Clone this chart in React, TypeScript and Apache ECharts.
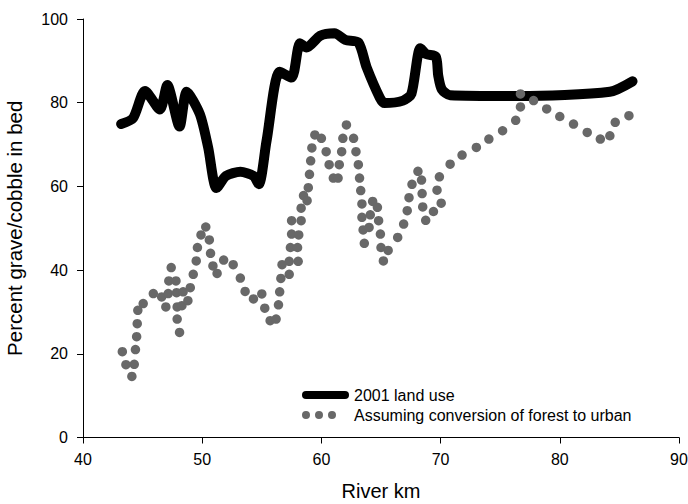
import React, { useEffect, useRef } from "react";
import * as echarts from "echarts";

const lineName = "2001 land use";
const dotName = "Assuming conversion of forest to urban";

const landUse2001: [number, number][] = [
  [43.2, 74.9], [44.2, 76.3], [45.2, 82.8], [46.45, 78.4], [47.07, 84.2], [48.1, 74.3],
  [48.7, 82.6], [49.8, 77.3], [50.5, 69.3], [51.2, 59.6], [52.0, 62.5], [53.2, 63.5],
  [54.3, 62.5], [54.75, 60.5], [55.4, 70.9], [56.5, 87.4], [57.5, 86.0], [58.2, 94.2],
  [58.75, 93.2], [59.9, 96.0], [61.1, 96.6], [62.0, 95.0], [63.1, 94.4], [63.8, 88.4],
  [64.9, 81.2], [65.3, 79.9], [66.85, 80.5], [67.55, 82.1], [68.3, 93.0], [68.8, 91.6],
  [69.6, 91.0], [69.8, 86.5], [70.1, 83.2], [70.8, 81.8], [76.6, 81.6], [84.2, 82.6],
  [86.1, 85.1],
];

const forestToUrban: [number, number][] = [
  [43.3, 20.5], [43.6, 17.4], [44.1, 14.6], [44.3, 17.5], [44.4, 21.0], [44.5, 24.1],
  [44.55, 27.2], [44.6, 30.4], [45.05, 32.0], [45.9, 34.4], [46.6, 33.6], [46.95, 31.2],
  [47.15, 34.4], [47.2, 37.4], [47.4, 40.6], [47.8, 37.4], [47.85, 34.6], [47.9, 31.2],
  [47.9, 28.3], [48.1, 25.1], [48.3, 31.5], [48.4, 34.8], [48.8, 32.7], [49.0, 35.8],
  [49.25, 39.0], [49.5, 42.2], [49.6, 45.4], [49.9, 48.4], [50.3, 50.3], [50.6, 47.2],
  [50.7, 44.0], [50.9, 41.0], [51.25, 39.2], [51.8, 42.4], [52.6, 41.3], [53.2, 38.1],
  [53.6, 34.9], [54.3, 33.1], [55.0, 34.3], [55.25, 30.9], [55.7, 27.9], [56.2, 28.3],
  [56.4, 31.7], [56.5, 34.8], [56.6, 38.0], [56.7, 41.3], [57.3, 39.0], [57.3, 42.1],
  [57.4, 45.4], [57.5, 48.6], [57.5, 51.8], [58.05, 42.1], [58.0, 45.4], [58.1, 48.4],
  [58.3, 51.8], [58.3, 54.8], [58.5, 57.8], [58.8, 56.6], [58.9, 59.7], [59.0, 62.9],
  [59.1, 66.1], [59.2, 69.2], [59.45, 72.3], [60.0, 71.5], [60.4, 68.3], [60.65, 65.2],
  [61.0, 62.0], [61.4, 62.0], [61.5, 65.2], [61.7, 68.3], [61.8, 71.5], [62.1, 74.7],
  [62.7, 71.5], [62.9, 68.3], [63.1, 65.2], [63.2, 62.0], [63.3, 59.0], [63.4, 55.8],
  [63.4, 52.6], [63.5, 49.6], [63.6, 46.4], [64.0, 50.2], [64.1, 53.2], [64.3, 56.4],
  [64.7, 55.0], [64.8, 51.8], [64.95, 48.6], [65.0, 45.4], [65.2, 42.2], [65.6, 44.7],
  [66.4, 47.8], [66.9, 51.0], [67.2, 54.2], [67.35, 57.3], [67.6, 60.5], [68.1, 63.6],
  [68.4, 61.5], [68.45, 58.3], [68.5, 55.1], [68.75, 51.9], [69.4, 54.0], [69.7, 59.1],
  [69.9, 62.3], [70.05, 56.0], [70.8, 65.3], [71.8, 67.5], [73.0, 69.3], [74.05, 71.3],
  [75.2, 73.3], [76.3, 75.8], [76.7, 79.0], [76.7, 82.1], [77.8, 80.5], [78.9, 78.5],
  [80.0, 76.7], [81.15, 74.9], [82.3, 72.9], [83.4, 71.3], [84.2, 72.1], [84.65, 75.3],
  [85.8, 76.9],
];

const xTicks = { min: 40, max: 90, interval: 10 };
const yTicks = { min: 0, max: 100, interval: 20 };
const xAxisTitle = "River km";
const yAxisTitle = "Percent grave/cobble in bed";

const FONT = '"Liberation Sans", Arial, sans-serif';

const lineIcon = "path://M4,0L43,0A4,4 0 0 1 43,8L4,8A4,4 0 0 1 4,0Z";
const dotsIcon =
  "path://M47,4M0,4A4,4 0 1 1 8,4A4,4 0 1 1 0,4ZM13,4A4,4 0 1 1 21,4A4,4 0 1 1 13,4ZM26,4A4,4 0 1 1 34,4A4,4 0 1 1 26,4Z";

export default function App() {
  const ref = useRef<HTMLDivElement>(null);
  useEffect(() => {
    if (!ref.current) return;
    const chart = echarts.init(ref.current, null, { renderer: "svg" });
    const axisCommon = {
      axisLine: { show: true, onZero: false, lineStyle: { color: "#000", width: 1 } },
      axisTick: { show: true, length: 6, lineStyle: { color: "#000", width: 1 } },
      splitLine: { show: false },
      nameLocation: "middle" as const,
    };
    chart.setOption({
      animation: false,
      backgroundColor: "#fff",
      textStyle: { fontFamily: FONT },
      grid: {
        left: 83,
        right: 9,
        top: 19,
        bottom: 66.5,
        containLabel: false,
        outerBoundsMode: "none",
      },
      xAxis: {
        type: "value",
        ...xTicks,
        ...axisCommon,
        name: xAxisTitle,
        nameGap: 43,
        nameTextStyle: { color: "#000", fontSize: 20, fontFamily: FONT },
        axisLabel: { color: "#000", fontSize: 16, fontFamily: FONT, margin: 14 },
      },
      yAxis: {
        type: "value",
        ...yTicks,
        ...axisCommon,
        name: yAxisTitle,
        nameGap: 58,
        nameTextStyle: { color: "#000", fontSize: 20.5, fontFamily: FONT },
        axisLabel: { color: "#000", fontSize: 16, fontFamily: FONT, margin: 15 },
      },
      legend: {
        orient: "vertical",
        left: 302,
        top: 387,
        padding: 0,
        itemWidth: 47,
        itemHeight: 8,
        itemGap: 4,
        itemStyle: { borderWidth: 0 },
        textStyle: {
          color: "#000",
          fontSize: 16,
          lineHeight: 16,
          fontFamily: FONT,
          fontWeight: "normal",
          textBorderWidth: 0,
          textBorderColor: "transparent",
        },
        data: [
          { name: lineName, icon: lineIcon },
          { name: dotName, icon: dotsIcon },
        ],
      },
      series: [
        {
          name: lineName,
          type: "line",
          data: landUse2001,
          symbol: "none",
          showSymbol: false,
          smooth: 0.25,
          color: "#000",
          lineStyle: { color: "#000", width: 10, cap: "round", join: "round" },
          z: 2,
        },
        {
          name: dotName,
          type: "scatter",
          data: forestToUrban,
          symbol: "circle",
          symbolSize: 9.5,
          color: "#686868",
          itemStyle: { color: "#686868", opacity: 1 },
          z: 3,
        },
      ],
    });
    return () => chart.dispose();
  }, []);
  return (
    <div
      ref={ref}
      style={{ position: "fixed", left: 0, top: 0, width: 688, height: 504 }}
    />
  );
}
